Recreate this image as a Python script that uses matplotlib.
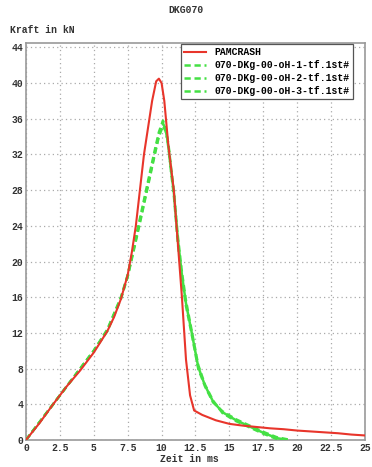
import matplotlib
matplotlib.use('Agg')
import matplotlib.pyplot as plt

plt.rcParams['font.family'] = ['Liberation Mono', 'DejaVu Sans Mono']
plt.rcParams['font.weight'] = 'bold'

# PAMCRASH curve (time in ms, force in kN)
red_t = [0, 1, 2, 3, 4, 5, 6, 6.5, 7, 7.5, 7.8, 8.1, 8.4, 8.7, 9.0, 9.3, 9.6, 9.8,
         10.0, 10.2, 10.5, 10.9, 11.2, 11.5, 11.8, 12.1, 12.4, 13, 14, 15, 16, 17,
         18, 19, 20, 21, 22, 23, 24, 25]
red_f = [0, 1.9, 4, 6, 7.8, 9.8, 12.2, 13.8, 15.8, 18.5, 21, 24, 28, 32, 35, 38, 40.2, 40.5,
         40, 38, 33, 28, 22, 16, 9, 5, 3.3, 2.8, 2.2, 1.8, 1.6, 1.45,
         1.3, 1.2, 1.05, 0.95, 0.85, 0.75, 0.6, 0.5]

# test curves
g1_t = [0, 1, 2, 3, 4, 5, 6, 7, 7.5, 8, 8.5, 9, 9.5, 9.8, 10.1, 10.3, 10.5, 10.7, 10.9,
        11.2, 11.5, 11.8, 12.2, 12.7, 13.2, 13.8, 14.5, 15.5, 16.5, 17.5, 18.5, 19.5]
g1_f = [0, 2, 4, 6, 8, 10, 12.4, 16, 18.5, 22, 25.5, 29, 32.5, 34.5, 35.8, 35, 33, 30, 27.5,
        22, 18, 15, 12, 8, 6, 4.2, 3.2, 2.3, 1.6, 0.9, 0.3, 0]
g2_t = [0, 1, 2, 3, 4, 5, 6, 7, 7.5, 8, 8.5, 9, 9.5, 9.8, 10.1, 10.3, 10.5, 10.7, 10.9,
        11.2, 11.5, 11.8, 12.2, 12.7, 13.2, 13.8, 14.5, 15.5, 16.5, 17.5, 18.5, 19.3]
g2_f = [0, 2, 4, 6, 8, 10, 12.3, 15.9, 18.4, 21.8, 25.2, 28.7, 32.2, 34.2, 35.5, 34.8, 32.8, 30.2, 27.8,
        22.5, 18.5, 15.3, 12.2, 8.2, 6.1, 4.3, 3.1, 2.2, 1.5, 0.8, 0.2, 0]
g3_t = [0, 1, 2, 3, 4, 5, 6, 7, 7.5, 8, 8.5, 9, 9.5, 9.8, 10.1, 10.3, 10.5, 10.7, 10.9,
        11.2, 11.5, 11.8, 12.2, 12.7, 13.2, 13.8, 14.5, 15.5, 16.5, 17.5, 18.5, 19.0]
g3_f = [0, 2, 4, 6, 8, 10, 12.2, 15.8, 18.3, 21.6, 25, 28.5, 32, 34, 35.2, 34.6, 33.2, 30.5, 28,
        22.8, 18.8, 15.6, 12.4, 8.4, 6.2, 4.4, 3.0, 2.1, 1.4, 0.7, 0.1, 0]

labels = ['PAMCRASH', '070-DKg-00-oH-1-tf.1st#', '070-DKg-00-oH-2-tf.1st#', '070-DKg-00-oH-3-tf.1st#']
x_ticks = [0, 2.5, 5, 7.5, 10, 12.5, 15, 17.5, 20, 22.5, 25]
x_ticklabels = ['0', '2.5', '5', '7.5', '10', '12.5', '15', '17.5', '20', '22.5', '25']
y_ticks = [0, 4, 8, 12, 16, 20, 24, 28, 32, 36, 40, 44]

fig = plt.figure(figsize=(3.72, 4.67), dpi=100)
ax = fig.add_axes([0.070, 0.058, 0.911, 0.85])

green = '#44e044'
ax.plot(red_t, red_f, color='#e8352b', linewidth=1.5, label=labels[0], zorder=4)
for t, f, lab in [(g1_t, g1_f, labels[1]), (g2_t, g2_f, labels[2]), (g3_t, g3_f, labels[3])]:
    ax.plot(t, f, color=green, linewidth=1.8, linestyle=(0, (2.5, 1.5)), label=lab, zorder=3)

ax.set_xlim(0, 25)
ax.set_ylim(0, 44.5)
ax.set_xticks(x_ticks)
ax.set_xticklabels(x_ticklabels)
ax.set_yticks(y_ticks)
ax.tick_params(length=0, labelsize=7, pad=2, colors='#333333')
ax.grid(True, color='#aaaaaa', linestyle=(0, (1, 2.5)), linewidth=0.9)
for s in ax.spines.values():
    s.set_color('#999999')
    s.set_linewidth(1.2)

leg = ax.legend(loc='upper right', bbox_to_anchor=(0.965, 0.998), borderaxespad=0, fontsize=7,
                frameon=True, fancybox=False, framealpha=1, edgecolor='#555555',
                handlelength=2.2, borderpad=0.35, labelspacing=0.3, handletextpad=0.9)
leg.get_frame().set_linewidth(0.9)

fig.text(0.5, 0.978, 'DKG070', ha='center', va='center', fontsize=7, fontweight='bold', color='#333333')
fig.text(0.027, 0.935, 'Kraft in kN', ha='left', va='center', fontsize=7, fontweight='bold', color='#333333')
fig.text(0.51, 0.018, 'Zeit in ms', ha='center', va='center', fontsize=7, fontweight='bold', color='#333333')

fig.savefig('out.png', dpi=100)
